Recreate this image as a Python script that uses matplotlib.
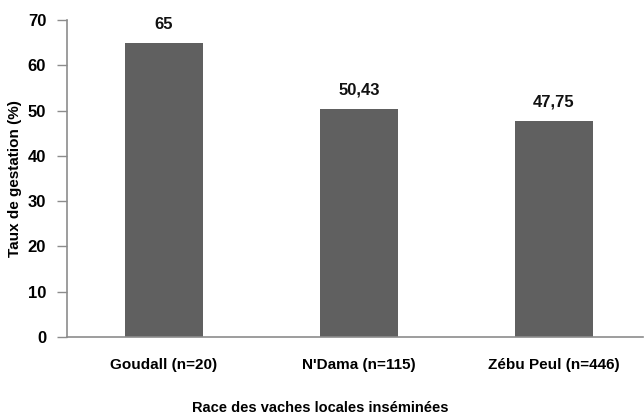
import matplotlib
matplotlib.use("Agg")
import matplotlib.pyplot as plt

races = ["Goudall (n=20)", "N'Dama (n=115)", "Zébu Peul (n=446)"]
taux = [65, 50.43, 47.75]
value_labels = ["65", "50,43", "47,75"]
yticks = [0, 10, 20, 30, 40, 50, 60, 70]

plt.rcParams["font.family"] = ["Liberation Sans Narrow", "Liberation Sans", "DejaVu Sans"]
plt.rcParams["font.weight"] = "bold"

fig = plt.figure(figsize=(6.44, 4.18), dpi=100)
ax = fig.add_axes([67 / 644, 81 / 418, 576 / 644, 317 / 418])

x = list(range(len(races)))
ax.bar(x, taux, width=0.4, color="#606060", zorder=2)

for xi, v, lab in zip(x, taux, value_labels):
    ax.text(xi, v + 2.4, lab, ha="center", va="bottom", fontsize=12,
            fontweight="bold", color="#111111")

ax.set_xlim(-0.497, 2.456)
ax.set_ylim(0, 70)
ax.set_yticks(yticks)
ax.set_yticklabels([str(t) for t in yticks], fontsize=12, fontweight="bold")
ax.set_xticks(x)
ax.set_xticklabels(races, fontsize=11, fontweight="bold")

for side in ["top", "right"]:
    ax.spines[side].set_visible(False)
for side in ["left", "bottom"]:
    ax.spines[side].set_color("#8c8c8c")
    ax.spines[side].set_linewidth(1.2)

ax.tick_params(axis="y", length=7, width=1, color="#8c8c8c", pad=8)
ax.tick_params(axis="x", length=0, pad=15)

ax.set_ylabel("Taux de gestation (%)", fontsize=11, fontweight="bold", labelpad=4)
fig.text(320 / 644, 3 / 418, "Race des vaches locales inséminées", ha="center",
         va="bottom", fontsize=10.5, fontweight="bold")

fig.savefig("out.png", dpi=100)
